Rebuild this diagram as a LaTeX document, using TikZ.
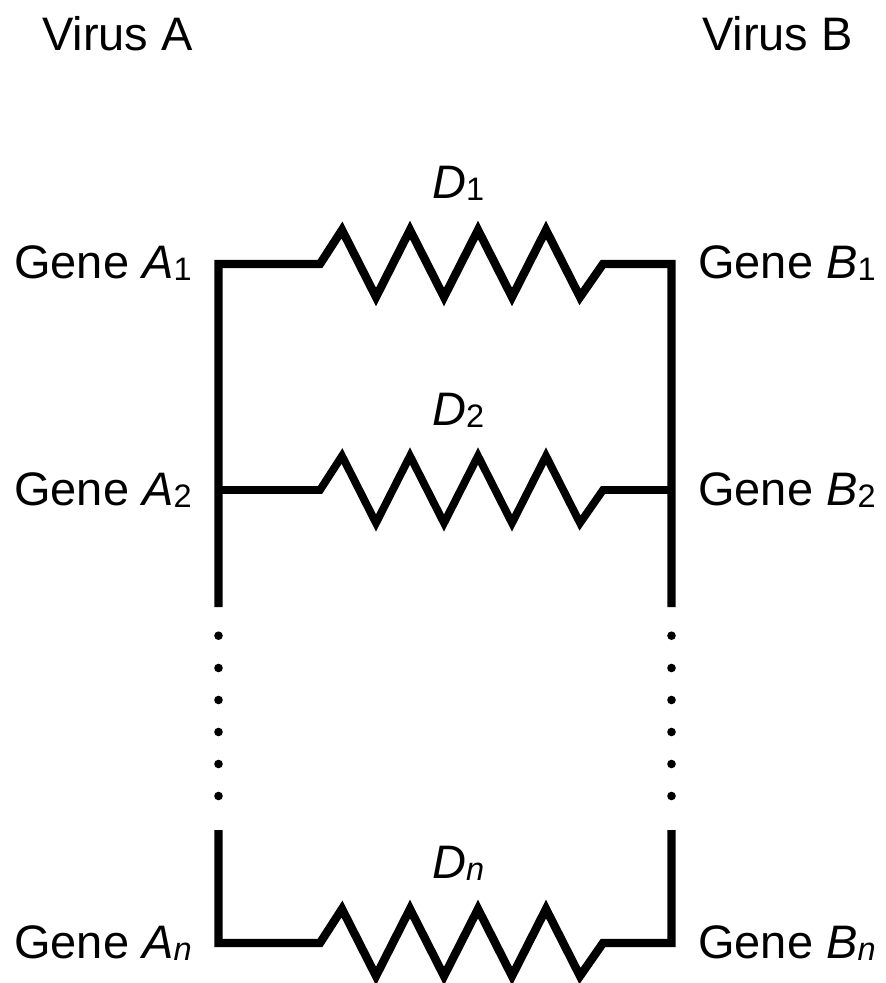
\documentclass[tikz,border=0pt]{standalone}
\usepackage{fontspec}
\setmainfont{Liberation Sans}
\newcommand{\lab}[2]{{\fontsize{47}{50}\selectfont #1}{\fontsize{32.5}{36}\selectfont\raisebox{-0.09em}{#2}}}
\begin{document}
\begin{tikzpicture}[x=1pt,y=-1pt,
  wire/.style={line width=8.4pt,line cap=butt,line join=miter,miter limit=10},
  thin wire/.style={wire,line width=7.8pt},
  dotmark/.style={circle,fill=black,inner sep=0pt,minimum size=8.6pt},
  txt/.style={inner sep=0pt,anchor=base west,font=\fontsize{47}{50}\selectfont}]
\useasboundingbox (0,0) rectangle (886,983);
\clip (0,0) rectangle (886,983);
% anchors
\coordinate (A1) at (218.5,264);
\coordinate (B1) at (671.5,264);
\coordinate (A2) at (218.5,490);
\coordinate (B2) at (671.5,490);
\coordinate (An) at (218.5,943);
\coordinate (Bn) at (671.5,943);
\coordinate (A2end) at (218.5,607);
\coordinate (B2end) at (671.5,607);
\coordinate (Anstart) at (218.5,830);
\coordinate (Bnstart) at (671.5,830);
% rails
\draw[wire] (A2end) -- (A1) -- (320,264)
  -- ++(22,-34) -- ++(34,67) -- ++(34,-67) -- ++(34,67) -- ++(34,-67) -- ++(34,67) -- ++(34,-67) -- ++(34,67) -- ++(23,-33)
  -- (B1) -- (B2end);
\draw[thin wire] (A2) -- (320,490)
  -- ++(22,-34) -- ++(34,67) -- ++(34,-67) -- ++(34,67) -- ++(34,-67) -- ++(34,67) -- ++(34,-67) -- ++(34,67) -- ++(23,-33)
  -- (B2);
\draw[wire] (Anstart) -- (An) -- (320,943)
  -- ++(22,-34) -- ++(34,67) -- ++(34,-67) -- ++(34,67) -- ++(34,-67) -- ++(34,67) -- ++(34,-67) -- ++(34,67) -- ++(23,-33)
  -- (Bn) -- (Bnstart);
% dots
\foreach \i/\y in {1/635.7,2/668,3/700,4/732,5/764,6/796}{
  \node[dotmark] (la\i) at (218.5,\y) {};
  \node[dotmark] (lb\i) at (671.5,\y) {};
}
% labels
\node[txt] (va) at (42,50) {Virus A};
\node[txt] (vb) at (702,50) {Virus B};
\node[txt] (d1) at (432,198) {\lab{\textit{D}}{1}};
\node[txt] (d2) at (432,425) {\lab{\textit{D}}{2}};
\node[txt] (dn) at (432,878) {\lab{\textit{D}}{\textit{n}}};
\node[txt] (ga1) at (14,278) {\lab{Gene \textit{A}}{1}};
\node[txt] (ga2) at (14,505) {\lab{Gene \textit{A}}{2}};
\node[txt] (gan) at (14,958) {\lab{Gene \textit{A}}{\textit{n}}};
\node[txt] (gb1) at (698,278) {\lab{Gene \textit{B}}{1}};
\node[txt] (gb2) at (698,505) {\lab{Gene \textit{B}}{2}};
\node[txt] (gbn) at (698,958) {\lab{Gene \textit{B}}{\textit{n}}};
\end{tikzpicture}
\end{document}
